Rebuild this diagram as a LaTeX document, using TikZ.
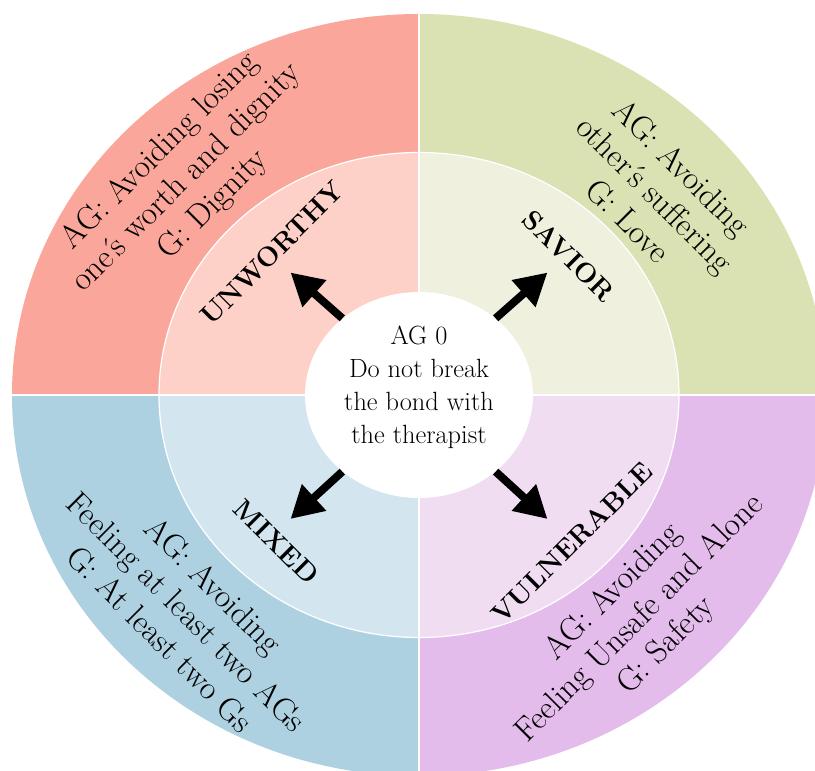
\documentclass[tikz,border=0pt]{standalone}
\usetikzlibrary{arrows.meta,shapes.geometric}
\definecolor{unworthyout}{RGB}{250,166,155}
\definecolor{unworthyin}{RGB}{253,208,200}
\definecolor{saviorout}{RGB}{218,225,179}
\definecolor{saviorin}{RGB}{239,240,221}
\definecolor{mixedout}{RGB}{174,209,225}
\definecolor{mixedin}{RGB}{211,230,240}
\definecolor{vulnout}{RGB}{228,188,235}
\definecolor{vulnin}{RGB}{240,221,242}

\begin{document}
\begin{tikzpicture}[
    gap/.style={white, line width=1.6pt},
    role/.style={font=\fontsize{15.5}{18}\selectfont\bfseries},
    goal/.style={align=center, font=\fontsize{18.7}{21.5}\selectfont},
    push/.style={line width=4.5pt, -{Triangle[length=0.64cm, width=0.68cm]}}
  ]
    \useasboundingbox (-8.38,-7.52) rectangle (7.92,7.90);
    \clip (-8.38,-7.52) rectangle (7.92,7.90);
    \fill[unworthyout] (0,0) -- (-8.14,0) arc[start angle=180, end angle=90, x radius=8.14, y radius=7.62] -- cycle;
    \fill[saviorout] (0,0) -- (0,7.62) arc[start angle=90, end angle=0, x radius=8.14, y radius=7.62] -- cycle;
    \fill[mixedout] (0,0) -- (-8.14,0) arc[start angle=180, end angle=270, x radius=8.14, y radius=7.62] -- cycle;
    \fill[vulnout] (0,0) -- (0,-7.62) arc[start angle=270, end angle=360, x radius=8.14, y radius=7.62] -- cycle;
    \fill[unworthyin] (0,0) -- (-5.2,0) arc[start angle=180, end angle=90, x radius=5.2, y radius=4.85] -- cycle;
    \fill[saviorin] (0,0) -- (0,4.85) arc[start angle=90, end angle=0, x radius=5.2, y radius=4.85] -- cycle;
    \fill[mixedin] (0,0) -- (-5.2,0) arc[start angle=180, end angle=270, x radius=5.2, y radius=4.85] -- cycle;
    \fill[vulnin] (0,0) -- (0,-4.85) arc[start angle=270, end angle=360, x radius=5.2, y radius=4.85] -- cycle;
    \draw[white, line width=0.7pt] (0,0) ellipse[x radius=5.2, y radius=4.85];
    \draw[gap] (-8.4,0) -- (8.4,0);
    \draw[gap] (0,-7.9) -- (0,7.9);

    \node[ellipse, fill=white, inner sep=0pt, minimum width=4.56cm, minimum height=4.12cm] (core) at (0,0) {};
    \node[align=center, font=\fontsize{15}{18.8}\selectfont] (core-text) at (0,0.15) {AG 0\\Do not break\\the bond with\\the therapist};

    \coordinate (unworthy-tip) at (-2.57,2.45);
    \coordinate (savior-tip) at (2.57,2.45);
    \coordinate (mixed-tip) at (-2.57,-2.48);
    \coordinate (vuln-tip) at (2.57,-2.48);
    \draw[push] (core.135) -- (unworthy-tip);
    \draw[push] (core.45) -- (savior-tip);
    \draw[push] (core.225) -- (mixed-tip);
    \draw[push] (core.-45) -- (vuln-tip);

    \node[role, rotate=45] (unworthy) at (-2.94,2.84) {UNWORTHY};
    \node[role, rotate=-45] (savior) at (3.0,2.78) {SAVIOR};
    \node[role, rotate=-45] (mixed) at (-2.85,-2.94) {MIXED};
    \node[role, rotate=45] (vuln) at (3.06,-2.96) {VULNERABLE};

    \node[goal, rotate=45] (unworthy-goal) at (-4.64,4.34) {AG: Avoiding losing\\one\kern-.05em´\kern-.25em s worth and dignity\\G: Dignity};
    \node[goal, rotate=-45] (savior-goal) at (4.72,4.02) {AG: Avoiding\\other\kern-.05em´\kern-.25em s suffering\\G: Love};
    \node[goal, rotate=-45] (mixed-goal) at (-4.64,-4.34) {AG: Avoiding\\Feeling at least two AGs\\G: At least two Gs};
    \node[goal, rotate=45] (vuln-goal) at (4.42,-4.48) {AG: Avoiding\\Feeling Unsafe and Alone\\G: Safety};
\end{tikzpicture}
\end{document}
